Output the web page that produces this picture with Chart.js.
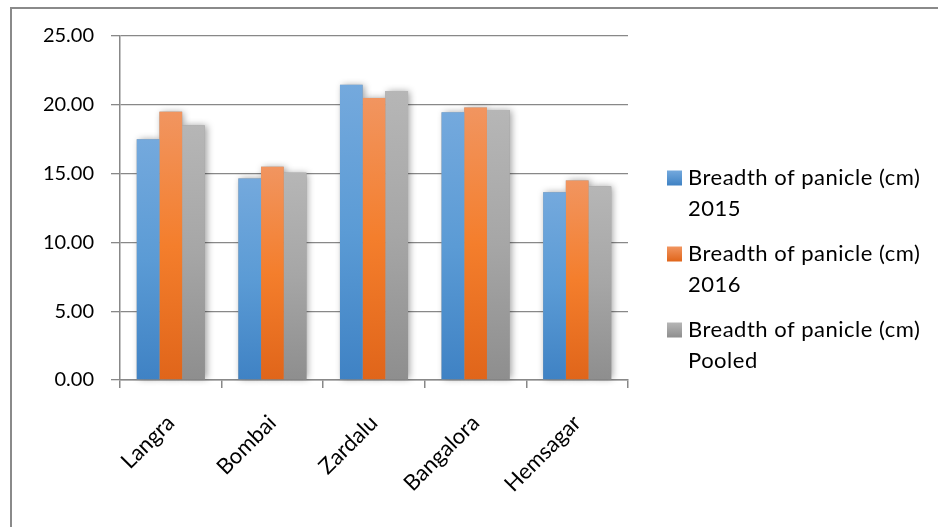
<!DOCTYPE html>
<html>
<head>
<meta charset="utf-8">
<script src="https://cdn.jsdelivr.net/npm/chart.js@4.4.1/dist/chart.umd.min.js"></script>
<style>
  html, body { margin: 0; padding: 0; background: #fff; }
  #wrap { position: relative; width: 938px; height: 527px; }
</style>
</head>
<body>
<div id="wrap"><canvas id="c" width="938" height="527"></canvas></div>
<script>
// Mango varieties and panicle breadth (cm)
const categories = ['Langra', 'Bombai', 'Zardalu', 'Bangalora', 'Hemsagar'];
const breadth2015 = [17.50, 14.65, 21.45, 19.45, 13.65];
const breadth2016 = [19.50, 15.50, 20.50, 19.80, 14.50];
const breadthPooled = [18.50, 15.07, 21.00, 19.62, 14.07];
const seriesLabels = [
  ['Breadth of panicle (cm)', '2015'],
  ['Breadth of panicle (cm)', '2016'],
  ['Breadth of panicle (cm)', 'Pooled']
];
const yMin = 0, yMax = 25, yStep = 5;

// vertical gradient stops: top, middle, bottom
const palettes = [
  ['#74a9dd', '#5b9bd5', '#3f82c4'],
  ['#f19560', '#f47e2c', '#e0651a'],
  ['#b6b6b6', '#a6a6a6', '#8e8e8e']
];

function barGradient(idx) {
  return function (context) {
    const chart = context.chart;
    const yScale = chart.scales.y;
    if (!yScale || context.raw == null) return palettes[idx][1];
    const top = yScale.getPixelForValue(context.raw);
    const bottom = yScale.getPixelForValue(0);
    if (!isFinite(top) || !isFinite(bottom) || top === bottom) return palettes[idx][1];
    const g = chart.ctx.createLinearGradient(0, top, 0, bottom);
    g.addColorStop(0, palettes[idx][0]);
    g.addColorStop(0.5, palettes[idx][1]);
    g.addColorStop(1, palettes[idx][2]);
    return g;
  };
}

const gridColor = '#888888';
const fontFamily = 'Lato, "Open Sans", sans-serif';

// outer frame of the chart object
const framePlugin = {
  id: 'frame',
  beforeDraw(chart) {
    const ctx = chart.ctx;
    ctx.save();
    ctx.fillStyle = '#ffffff';
    ctx.fillRect(0, 0, chart.width, chart.height);
    ctx.strokeStyle = '#8a8a8a';
    ctx.lineWidth = 2;
    ctx.strokeRect(11, 8, chart.width + 10, chart.height + 10);
    ctx.restore();
  }
};

// soft drop shadow behind every bar
const shadowPlugin = {
  id: 'barShadow',
  beforeDatasetsDraw(chart) {
    const ctx = chart.ctx;
    ctx.save();
    ctx.shadowColor = 'rgba(0,0,0,0.38)';
    ctx.shadowBlur = 7;
    ctx.shadowOffsetX = 2;
    ctx.shadowOffsetY = 0;
    ctx.fillStyle = '#999999';
    chart.data.datasets.forEach((ds, i) => {
      const meta = chart.getDatasetMeta(i);
      meta.data.forEach(el => {
        const p = el.getProps(['x', 'y', 'base', 'width'], true);
        ctx.fillRect(p.x - p.width / 2, p.y, p.width, p.base - p.y);
      });
    });
    ctx.restore();
  }
};

// legend on the right with two-line labels
const legendPlugin = {
  id: 'sideLegend',
  afterDraw(chart) {
    const ctx = chart.ctx;
    const boxX = 667, textX = 688, firstY = 178, lineGap = 31, itemGap = 76, box = 15;
    ctx.save();
    ctx.font = '22px ' + fontFamily;
    if ('letterSpacing' in ctx) ctx.letterSpacing = '0.5px';
    ctx.textBaseline = 'middle';
    ctx.textAlign = 'left';
    seriesLabels.forEach((lines, i) => {
      const y = firstY + i * itemGap;
      const g = ctx.createLinearGradient(0, y - box / 2, 0, y + box / 2);
      g.addColorStop(0, palettes[i][0]);
      g.addColorStop(1, palettes[i][2]);
      ctx.fillStyle = g;
      ctx.fillRect(boxX, y - box / 2, box, box);
      ctx.fillStyle = '#000000';
      lines.forEach((t, k) => ctx.fillText(t, textX, y + k * lineGap));
    });
    ctx.restore();
  }
};

new Chart(document.getElementById('c'), {
  type: 'bar',
  data: {
    labels: categories,
    datasets: [
      { label: seriesLabels[0].join(' '), data: breadth2015, backgroundColor: barGradient(0) },
      { label: seriesLabels[1].join(' '), data: breadth2016, backgroundColor: barGradient(1) },
      { label: seriesLabels[2].join(' '), data: breadthPooled, backgroundColor: barGradient(2) }
    ]
  },
  options: {
    responsive: false,
    animation: false,
    devicePixelRatio: 1,
    layout: { padding: { left: 0, top: 36, right: 310, bottom: 0 } },
    datasets: { bar: { categoryPercentage: 0.67, barPercentage: 1.0, borderWidth: 0 } },
    plugins: {
      legend: { display: false },
      tooltip: { enabled: false }
    },
    scales: {
      x: {
        grid: { display: true, offset: true, drawOnChartArea: false, drawTicks: true, tickLength: 8, color: gridColor, lineWidth: 1.5 },
        border: { display: true, color: gridColor, width: 1.5 },
        ticks: { color: '#000', font: { family: fontFamily, size: 22 }, maxRotation: 45, minRotation: 45, padding: 22 },
        afterFit(scale) { scale.height = 147; }
      },
      y: {
        min: yMin, max: yMax,
        grid: { color: gridColor, lineWidth: 1.3, tickLength: 9, drawTicks: true },
        border: { display: true, color: gridColor, width: 1.5 },
        ticks: {
          stepSize: yStep, color: '#000', font: { family: fontFamily, size: 20 }, padding: 17,
          callback: v => Number(v).toFixed(2)
        },
        afterFit(scale) { scale.width = 120; }
      }
    }
  },
  plugins: [framePlugin, shadowPlugin, legendPlugin]
});
</script>
</body>
</html>
